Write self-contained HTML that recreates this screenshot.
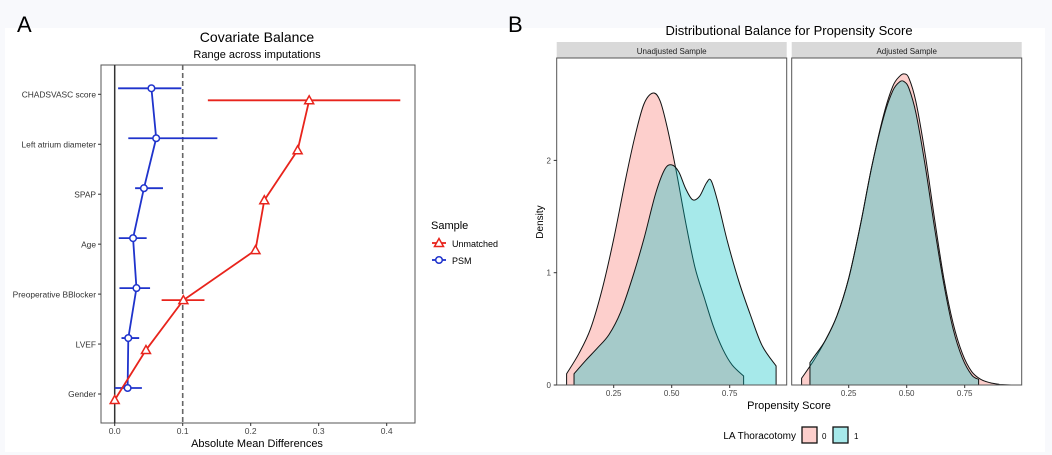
<!DOCTYPE html>
<html><head><meta charset="utf-8"><style>
html,body{margin:0;padding:0;background:#f8f9fc;}
svg{display:block;font-family:"Liberation Sans",sans-serif;}
</style></head><body>
<svg id="fig" width="1052" height="455" viewBox="0 0 1052 455">
<rect x="5" y="28" width="1040" height="424" fill="#fff"/>
<text x="17" y="32" font-size="22">A</text>
<text x="508" y="32" font-size="22">B</text>
<g id="left"></g>
<g id="right"></g>
</svg>
<script>
const covariates=["CHADSVASC score","Left atrium diameter","SPAP","Age","Preoperative BBlocker","LVEF","Gender"];
const psmVal=[0.054,0.061,0.043,0.027,0.032,0.020,0.019];
const psmLo=[0.005,0.020,0.030,0.006,0.007,0.010,0.000];
const psmHi=[0.098,0.151,0.071,0.047,0.052,0.036,0.040];
const unmVal=[0.286,0.269,0.220,0.207,0.101,0.046,0.000];
const unmLo=[0.137,null,null,null,0.069,null,null];
const unmHi=[0.420,null,null,null,0.132,null,null];
const xTicks=[0,0.1,0.2,0.3,0.4];
const xTickLabels=["0.0","0.1","0.2","0.3","0.4"];

const NS="http://www.w3.org/2000/svg";
function mk(parent,tag,attrs,text){const e=document.createElementNS(NS,tag);for(const k in attrs)e.setAttribute(k,attrs[k]);if(text!==undefined)e.textContent=text;parent.appendChild(e);return e;}

// ---- Left chart
const L=document.getElementById('left');
const px0=101,px1=415,py0=65,py1=423;
const xs=v=>114.7+v*680;
const ys=i=>94.3+i*49.95;
let e;
e=mk(L,'text',{x:257,y:42,'font-size':14,'text-anchor':'middle'},'Covariate Balance');

e=mk(L,'text',{x:257,y:58,'font-size':11,'text-anchor':'middle'},'Range across imputations');

e=mk(L,'rect',{x:px0,y:py0,width:px1-px0,height:py1-py0,fill:'#fff',stroke:'#555','stroke-width':1});

e=mk(L,'line',{x1:xs(0),x2:xs(0),y1:py0,y2:py1,stroke:'#333','stroke-width':1.5});

e=mk(L,'line',{x1:xs(0.1),x2:xs(0.1),y1:py0,y2:py1,stroke:'#666','stroke-width':1.6,'stroke-dasharray':'5,3'});

covariates.forEach((c,i)=>{
  e=mk(L,'text',{x:96,y:ys(i)+3.2,'font-size':8.4,'text-anchor':'end',fill:'#333'},c);
  
  mk(L,'line',{x1:98,x2:101,y1:ys(i),y2:ys(i),stroke:'#333'});
});
xTicks.forEach((t,i)=>{
  mk(L,'line',{x1:xs(t),x2:xs(t),y1:py1,y2:py1+3,stroke:'#333'});
  e=mk(L,'text',{x:xs(t),y:434,'font-size':8.5,'text-anchor':'middle',fill:'#444'},xTickLabels[i]);
  
});
e=mk(L,'text',{x:257,y:447,'font-size':11,'text-anchor':'middle'},'Absolute Mean Differences');

psmVal.forEach((v,i)=>{
  e=mk(L,'line',{x1:xs(psmLo[i]),x2:xs(psmHi[i]),y1:ys(i)-6,y2:ys(i)-6,stroke:'#1f33cc','stroke-width':1.8});
  
});
unmVal.forEach((v,i)=>{
  if(unmLo[i]===null)return;
  e=mk(L,'line',{x1:xs(unmLo[i]),x2:xs(unmHi[i]),y1:ys(i)+6,y2:ys(i)+6,stroke:'#e8241c','stroke-width':1.8});
  
});
e=mk(L,'polyline',{points:psmVal.map((v,i)=>xs(v)+','+(ys(i)-6)).join(' '),fill:'none',stroke:'#1f33cc','stroke-width':1.8});

e=mk(L,'polyline',{points:unmVal.map((v,i)=>xs(v)+','+(ys(i)+6)).join(' '),fill:'none',stroke:'#e8241c','stroke-width':1.8});

function tri(p,x,y){return mk(p,'polygon',{points:`${x},${y-4.5} ${x-4.5},${y+3.5} ${x+4.5},${y+3.5}`,fill:'#fff',stroke:'#e8241c','stroke-width':1.5});}
psmVal.forEach((v,i)=>{
  e=mk(L,'circle',{cx:xs(v),cy:ys(i)-6,r:3.3,fill:'#fff',stroke:'#1f33cc','stroke-width':1.5});
  
});
unmVal.forEach((v,i)=>{
  e=tri(L,xs(v),ys(i)+6);
  
});
e=mk(L,'text',{x:431,y:229,'font-size':11},'Sample');

mk(L,'line',{x1:432,x2:446,y1:243,y2:243,stroke:'#e8241c','stroke-width':1.8});
tri(L,439,243);
e=mk(L,'text',{x:452,y:247,'font-size':9},'Unmatched');

mk(L,'line',{x1:432,x2:446,y1:260,y2:260,stroke:'#1f33cc','stroke-width':1.8});
mk(L,'circle',{cx:439,cy:260,r:3.3,fill:'#fff',stroke:'#1f33cc','stroke-width':1.5});
e=mk(L,'text',{x:452,y:264,'font-size':9},'PSM');


// ---- Right chart data
const unadj0X=[0.047,0.047,0.10,0.15,0.20,0.25,0.30,0.34,0.38,0.42,0.45,0.48,0.52,0.56,0.60,0.64,0.68,0.72,0.76,0.81,0.81];
const unadj0Y=[0,0.10,0.28,0.50,0.85,1.30,1.82,2.20,2.50,2.60,2.53,2.30,1.90,1.45,1.05,0.78,0.52,0.32,0.18,0.08,0];
const unadj1X=[0.079,0.079,0.13,0.18,0.23,0.28,0.33,0.38,0.43,0.47,0.50,0.53,0.56,0.59,0.62,0.65,0.67,0.70,0.74,0.79,0.84,0.89,0.95,0.95];
const unadj1Y=[0,0.10,0.22,0.33,0.45,0.65,0.95,1.30,1.70,1.92,1.96,1.90,1.75,1.65,1.68,1.80,1.82,1.62,1.28,0.92,0.62,0.35,0.17,0];
const adj0X=[0.047,0.047,0.10,0.15,0.20,0.25,0.30,0.35,0.40,0.44,0.47,0.49,0.51,0.54,0.58,0.62,0.66,0.70,0.74,0.78,0.82,0.86,0.90,0.95];
const adj0Y=[0,0.06,0.22,0.40,0.62,0.95,1.42,1.95,2.40,2.66,2.75,2.77,2.73,2.52,2.05,1.48,0.95,0.55,0.28,0.12,0.05,0.02,0.005,0];
const adj1X=[0.083,0.083,0.10,0.15,0.20,0.25,0.30,0.35,0.40,0.44,0.47,0.49,0.51,0.54,0.58,0.62,0.66,0.70,0.74,0.78,0.81,0.81];
const adj1Y=[0,0.20,0.25,0.40,0.62,0.95,1.42,1.95,2.38,2.62,2.70,2.70,2.64,2.42,1.95,1.40,0.90,0.50,0.24,0.09,0.05,0];
const densTicks=[0,1,2];
const psTicks=[0.25,0.5,0.75];
const psTickLabels=["0.25","0.50","0.75"];

const R=document.getElementById('right');
const ry0=58,ry1=385;
const yd=v=>385-v*112.3;
const panels=[{x0:556.7,x1:786.7,org:555.7,title:'Unadjusted Sample',s:[[unadj0X,unadj0Y,'#f8766d'],[unadj1X,unadj1Y,'#00bfc4']]},
              {x0:791.7,x1:1021.7,org:790.7,title:'Adjusted Sample',s:[[adj0X,adj0Y,'#f8766d'],[adj1X,adj1Y,'#00bfc4']]}];
function smooth(pts){
  let d=`M${pts[0][0]},${pts[0][1]} L${pts[1][0]},${pts[1][1]}`;
  const n=pts.length;
  for(let i=1;i<n-2;i++){
    const p0=i===1?pts[1]:pts[i-1],p1=pts[i],p2=pts[i+1],p3=(i+2===n-1)?pts[i+1]:pts[i+2];
    const c1=[p1[0]+(p2[0]-p0[0])/6,p1[1]+(p2[1]-p0[1])/6];
    const c2=[p2[0]-(p3[0]-p1[0])/6,p2[1]-(p3[1]-p1[1])/6];
    d+=` C${c1[0]},${c1[1]} ${c2[0]},${c2[1]} ${p2[0]},${p2[1]}`;
  }
  const l=pts[n-1];d+=` L${l[0]},${l[1]} Z`;return d;
}
e=mk(R,'text',{x:789,y:35,'font-size':13,'text-anchor':'middle'},'Distributional Balance for Propensity Score');

panels.forEach((p,pi)=>{
  const xsp=v=>p.org+v*232;
  e=mk(R,'rect',{x:p.x0,y:42,width:p.x1-p.x0,height:16,fill:'#d9d9d9'});
  
  e=mk(R,'text',{x:(p.x0+p.x1)/2,y:54,'font-size':8,'text-anchor':'middle',fill:'#222'},p.title);
  
  p.s.forEach(([X,Y,c],si)=>{
    e=mk(R,'path',{d:smooth(X.map((v,i)=>[xsp(v),yd(Y[i])])),fill:c,'fill-opacity':0.35,stroke:'#111','stroke-width':1});
    
  });
  e=mk(R,'rect',{x:p.x0,y:ry0,width:p.x1-p.x0,height:ry1-ry0,fill:'none',stroke:'#555'});
  
  psTicks.forEach((t,i)=>{
    mk(R,'line',{x1:xsp(t),x2:xsp(t),y1:ry1,y2:ry1+3,stroke:'#333'});
    e=mk(R,'text',{x:xsp(t),y:396,'font-size':8,'text-anchor':'middle',fill:'#444'},psTickLabels[i]);
    
  });
});
densTicks.forEach(t=>{
  mk(R,'line',{x1:553.7,x2:556.7,y1:yd(t),y2:yd(t),stroke:'#333'});
  e=mk(R,'text',{x:551,y:yd(t)+3,'font-size':8,'text-anchor':'end',fill:'#444'},String(t));
  
});
e=mk(R,'text',{x:543,y:222,'font-size':10,'text-anchor':'middle',transform:'rotate(-90 543 222)'},'Density');

e=mk(R,'text',{x:789,y:409,'font-size':11,'text-anchor':'middle'},'Propensity Score');

e=mk(R,'text',{x:796,y:439,'font-size':10,'text-anchor':'end'},'LA Thoracotomy');

e=mk(R,'rect',{x:802,y:427,width:15,height:16,fill:'#f8766d','fill-opacity':0.35,stroke:'#111','stroke-width':1.3});

mk(R,'text',{x:822,y:439,'font-size':8},'0');
e=mk(R,'rect',{x:833,y:427,width:15,height:16,fill:'#00bfc4','fill-opacity':0.35,stroke:'#111','stroke-width':1.3});

mk(R,'text',{x:854,y:439,'font-size':8},'1');
</script>
</body></html>
